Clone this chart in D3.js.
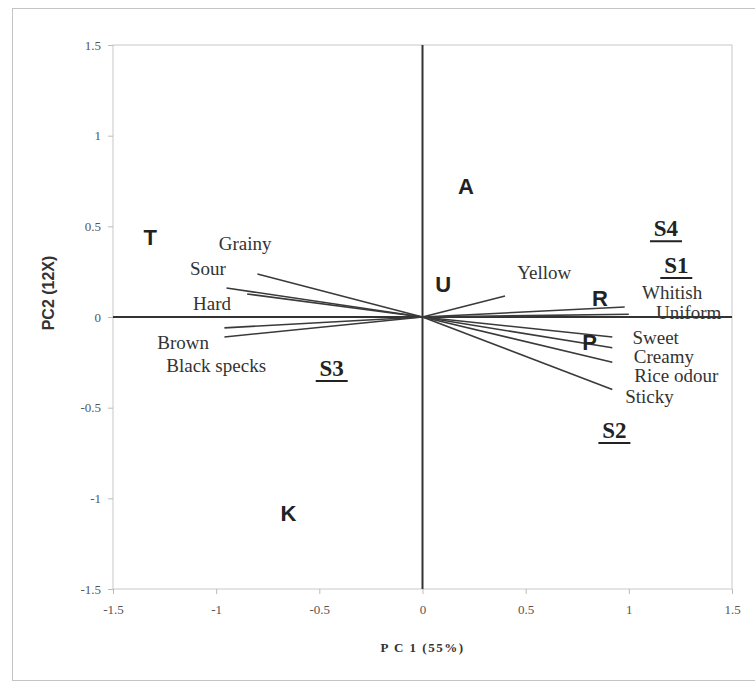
<!DOCTYPE html>
<html>
<head>
<meta charset="utf-8">
<script src="https://cdn.jsdelivr.net/npm/d3@7"></script>
<style>
  body { margin: 0; background: #fff; }
  svg { display: block; }
</style>
</head>
<body>
<script>
// PCA biplot: sensory attributes (vectors) and samples (letters)

// attribute vectors (loadings on PC1 / PC2)
const attrNames = ['Grainy', 'Sour', 'Hard', 'Brown', 'Black specks', 'Yellow',
                   'Whitish', 'Uniform', 'Sweet', 'Creamy', 'Rice odour', 'Sticky'];
const attrPC1 = [-0.80, -0.95, -0.85, -0.96, -0.96, 0.40, 0.98, 1.00, 0.92, 0.92, 0.92, 0.92];
const attrPC2 = [0.237, 0.16, 0.127, -0.06, -0.11, 0.116, 0.055, 0.015, -0.11, -0.17, -0.25, -0.40];
// where each attribute name sits (data units, text centre)
const attrLabelPC1 = [-0.86, -1.04, -1.02, -1.16, -1.00, 0.59, 1.21, 1.29, 1.13, 1.17, 1.23, 1.10];
const attrLabelPC2 = [0.408, 0.27, 0.077, -0.138, -0.265, 0.248, 0.135, 0.025, -0.11, -0.215, -0.32, -0.436];

// commercial samples (single letters)
const sampleNames = ['T', 'A', 'U', 'R', 'P', 'K'];
const samplePC1 = [-1.32, 0.21, 0.10, 0.86, 0.81, -0.65];
const samplePC2 = [0.44, 0.72, 0.18, 0.105, -0.138, -1.08];

// underlined samples
const sNames = ['S4', 'S1', 'S3', 'S2'];
const sPC1 = [1.18, 1.23, -0.44, 0.93];
const sPC2 = [0.49, 0.287, -0.281, -0.623];

const ticks = [-1.5, -1, -0.5, 0, 0.5, 1, 1.5];

const width = 755, height = 684;
const plotLeft = 113, plotRight = 732, plotTop = 45, plotBottom = 589;

const svg = d3.select('body').append('svg')
  .attr('width', width)
  .attr('height', height);

// outer frame
svg.append('rect')
  .attr('x', 12.5).attr('y', 8.5)
  .attr('width', 760).attr('height', 672)
  .attr('fill', '#fff')
  .attr('stroke', '#c4c4c4');

const x = d3.scaleLinear().domain([-1.5, 1.5]).range([plotLeft, plotRight]);
const y = d3.scaleLinear().domain([-1.5, 1.5]).range([plotBottom, plotTop]);

// plot border
svg.append('rect')
  .attr('x', plotLeft).attr('y', plotTop)
  .attr('width', plotRight - plotLeft).attr('height', plotBottom - plotTop)
  .attr('fill', 'none')
  .attr('stroke', '#c8c8c8');

const fmt = d => (d === 0 ? '0' : String(d));

// axes
const xAxis = svg.append('g')
  .attr('transform', `translate(0,${plotBottom})`)
  .call(d3.axisBottom(x).tickValues(ticks).tickSize(5).tickPadding(11).tickFormat(fmt));
const yAxis = svg.append('g')
  .attr('transform', `translate(${plotLeft},0)`)
  .call(d3.axisLeft(y).tickValues(ticks).tickSize(5).tickPadding(7).tickFormat(fmt));

[xAxis, yAxis].forEach(g => {
  g.attr('font-family', '"Liberation Serif", serif').attr('font-size', 13);
  g.select('.domain').remove();
  g.selectAll('line').attr('stroke', '#bbb');
  g.selectAll('text').attr('fill', '#555');
});

// zero lines
svg.append('line')
  .attr('x1', x(-1.5)).attr('x2', x(1.5))
  .attr('y1', y(0)).attr('y2', y(0))
  .attr('stroke', '#333').attr('stroke-width', 2);
svg.append('line')
  .attr('x1', x(0)).attr('x2', x(0))
  .attr('y1', y(1.5)).attr('y2', y(-1.5))
  .attr('stroke', '#333').attr('stroke-width', 2);

// axis titles
svg.append('text')
  .attr('x', x(0)).attr('y', 652)
  .attr('text-anchor', 'middle')
  .attr('font-family', '"Liberation Serif", serif')
  .attr('font-weight', 'bold')
  .attr('font-size', 13)
  .attr('letter-spacing', 1.5)
  .attr('fill', '#333')
  .text('P C 1 (55%)');

svg.append('text')
  .attr('transform', `translate(54,${y(0) - 24}) rotate(-90)`)
  .attr('text-anchor', 'middle')
  .attr('font-family', '"Liberation Sans", Arial, sans-serif')
  .attr('font-weight', 'bold')
  .attr('font-size', 16)
  .attr('fill', '#333')
  .text('PC2 (12X)');

// attribute vectors
svg.selectAll('.vec')
  .data(attrNames)
  .enter()
  .append('line')
  .attr('class', 'vec')
  .attr('x1', x(0)).attr('y1', y(0))
  .attr('x2', (d, i) => x(attrPC1[i]))
  .attr('y2', (d, i) => y(attrPC2[i]))
  .attr('stroke', '#3a3a3a')
  .attr('stroke-width', 1.6);

svg.selectAll('.attr')
  .data(attrNames)
  .enter()
  .append('text')
  .attr('class', 'attr')
  .attr('x', (d, i) => x(attrLabelPC1[i]))
  .attr('y', (d, i) => y(attrLabelPC2[i]))
  .attr('dy', '0.35em')
  .attr('text-anchor', 'middle')
  .attr('font-family', '"Liberation Serif", serif')
  .attr('font-size', 19)
  .attr('fill', '#333')
  .text(d => d);

// sample letters
svg.selectAll('.sample')
  .data(sampleNames)
  .enter()
  .append('text')
  .attr('class', 'sample')
  .attr('x', (d, i) => x(samplePC1[i]))
  .attr('y', (d, i) => y(samplePC2[i]))
  .attr('dy', '0.36em')
  .attr('text-anchor', 'middle')
  .attr('font-family', '"Liberation Sans", Arial, sans-serif')
  .attr('font-weight', 'bold')
  .attr('font-size', 22)
  .attr('fill', '#222')
  .text(d => d);

// underlined samples
const sGroup = svg.selectAll('.s')
  .data(sNames)
  .enter()
  .append('g')
  .attr('class', 's')
  .attr('transform', (d, i) => `translate(${x(sPC1[i])},${y(sPC2[i])})`);

sGroup.append('text')
  .attr('dy', '0.35em')
  .attr('text-anchor', 'middle')
  .attr('font-family', '"Liberation Serif", serif')
  .attr('font-weight', 'bold')
  .attr('font-size', 23)
  .attr('fill', '#222')
  .text(d => d);

sGroup.append('line')
  .attr('x1', -16).attr('x2', 16)
  .attr('y1', 13).attr('y2', 13)
  .attr('stroke', '#222')
  .attr('stroke-width', 2);
</script>
</body>
</html>
